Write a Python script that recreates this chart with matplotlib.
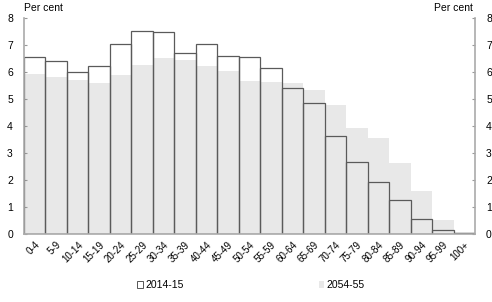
import matplotlib
matplotlib.use("Agg")
import matplotlib.pyplot as plt
from matplotlib.patches import Patch

# ==========================================================
# Age distribution data (per cent of population)
# ==========================================================

age_groups = ["0-4", "5-9", "10-14", "15-19", "20-24", "25-29", "30-34",
              "35-39", "40-44", "45-49", "50-54", "55-59", "60-64", "65-69",
              "70-74", "75-79", "80-84", "85-89", "90-94", "95-99", "100+"]

share_2014 = [6.57, 6.42, 5.99, 6.21, 7.02, 7.53, 7.49, 6.69, 7.02, 6.60, 6.57,
              6.14, 5.42, 4.84, 3.62, 2.65, 1.92, 1.26, 0.55, 0.14, 0.02]

share_2054 = [5.91, 5.83, 5.70, 5.59, 5.89, 6.26, 6.51, 6.44, 6.22, 6.04, 5.67,
              5.64, 5.58, 5.33, 4.78, 3.93, 3.57, 2.62, 1.58, 0.50, 0.08]

plt.rcParams["font.family"] = ["Liberation Sans", "DejaVu Sans"]

fig = plt.figure(figsize=(4.92, 3.02), dpi=100)
ax = fig.add_axes([0.0488, 0.2252, 0.9166, 0.7152])

x = range(len(age_groups))

ax.bar(x, share_2054, width=1.0, color="#e8e8e8", edgecolor="none", zorder=1)
ax.bar(x, share_2014, width=1.0, fill=False, edgecolor="#5a5a5a",
       linewidth=0.9, zorder=2)

ax.set_xlim(-0.5, len(age_groups) - 0.5)
ax.set_ylim(0, 8)
ax.set_yticks(range(0, 9))

ax.set_xticks(list(x))
ax.set_xticklabels(age_groups, rotation=45, ha="right", rotation_mode="anchor",
                   fontsize=7)
ax.tick_params(axis="x", length=0, pad=4)
ax.tick_params(axis="y", direction="in", length=2, labelsize=7.5,
               left=True, right=True, labelleft=True, labelright=True,
               color="#999999", pad=8)

for side in ["left", "right", "bottom"]:
    ax.spines[side].set_color("#aaaaaa")
    ax.spines[side].set_linewidth(1.2)
ax.spines["top"].set_visible(False)

ax.text(0.0, 1.025, "Per cent", transform=ax.transAxes, fontsize=7.5,
        ha="left", va="bottom")
ax.text(0.995, 1.025, "Per cent", transform=ax.transAxes, fontsize=7.5,
        ha="right", va="bottom")

handles = [Patch(facecolor="white", edgecolor="#555555", linewidth=0.7),
           Patch(facecolor="#e8e8e8", edgecolor="none")]
fig.legend(handles, ["2014-15", "2054-55"], loc="lower center",
           bbox_to_anchor=(0.51, 0.008), ncol=2, frameon=False, fontsize=7.5,
           handlelength=0.55, handleheight=0.55, handletextpad=0.2,
           columnspacing=13)

fig.savefig("out.png", dpi=100)
